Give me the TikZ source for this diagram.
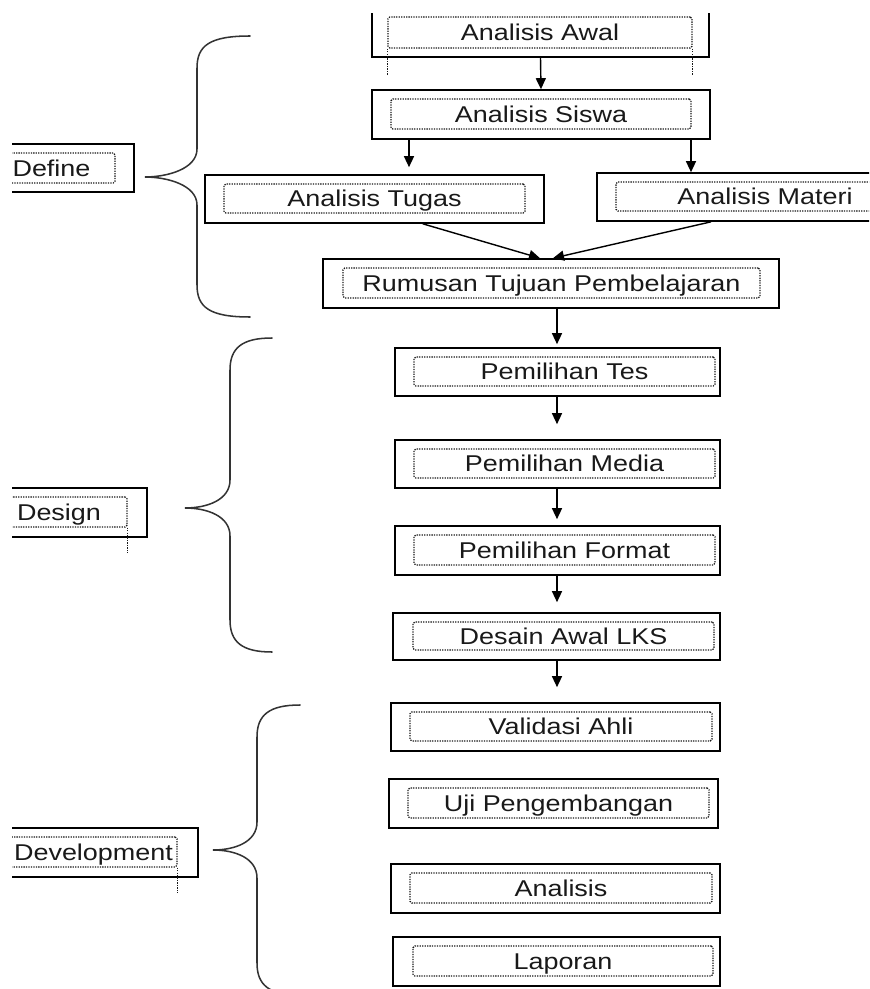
\documentclass[tikz,border=0pt]{standalone}
\usepackage{fontspec}
\setmainfont{Liberation Sans}[FakeStretch=1.18]
\usetikzlibrary{arrows.meta,fit}

\tikzset{
  stage/.style={draw=black, line width=1.4pt, inner sep=0pt},
  dots/.style={draw=black!90, line width=1.1pt, dash pattern=on 1.1pt off 1pt},
  tbox/.style={dots, rounded corners=1.5pt, inner sep=0pt},
  txt/.style={inner sep=0pt, anchor=center, text=black!90,
    font=\fontsize{19.5}{22}\selectfont, text height=14pt, text depth=0pt},
  flow/.style={line width=1.2pt, -{Triangle[length=0.33cm,width=0.3cm]}},
  curly/.style={line width=1.3pt, draw=black!80, line cap=round}
}

\begin{document}
\begin{tikzpicture}[x=0.03cm, y=-0.03cm]
  \useasboundingbox (0,0) rectangle (869,989);
  \begin{scope}
    % the scan is cut at the left and at the top
    \clip (12,14) rectangle (869,989);

    % first box, its top edge is cut off
    \node[stage, fit={(372,-10) (709,57)}] (awal) {};
    \node[tbox, fit={(388,17) (692,48)}] (awal-in) {};
    \node[txt] (awal-t) at (awal-in.center) {Analisis Awal};
    \draw[dots] (awal-in.south west) -- ++(0,27);
    \draw[dots] (awal-in.south east) -- ++(0,27);

    % boxes of the main column
    \foreach \n/\xl/\xr/\il/\ir/\yt/\yb/\txt in {
        siswa/372/710/391/691/90/139/Analisis Siswa,
        tugas/205/544/224/525/175/223/Analisis Tugas,
        materi/597/935/616/914/173/221/Analisis Materi,
        rumusan/323/779/343/760/259/308/Rumusan Tujuan Pembelajaran,
        tes/395/720/414/715/348/396/Pemilihan Tes,
        media/395/720/414/715/440/488/Pemilihan Media,
        format/395/720/414/715/526/575/Pemilihan Format,
        desain/393/720/413/714/613/660/Desain Awal LKS,
        validasi/391/720/410/712/703/751/Validasi Ahli,
        uji/389/718/408/709/779/828/Uji Pengembangan,
        analisis/391/720/410/712/864/913/Analisis,
        laporan/393/720/413/713/937/986/Laporan}{
      \node[stage, fit={(\xl,\yt) (\xr,\yb)}] (\n) {};
      \node[tbox, fit={(\il,\yt+9) (\ir,\yb-10)}] (\n-in) {};
      \node[txt] (\n-t) at (\n-in.center) {\txt};
    }

    % stage labels on the left
    \node[stage, fit={(-20,144) (134,192)}] (define) {};
    \node[tbox, fit={(-12,153) (115,183)}] (define-in) {};
    \node[txt] (define-t) at (define-in.center) {Define};
    \node[stage, fit={(-20,488) (147,537)}] (design) {};
    \node[tbox, fit={(-9,497) (127,527)}] (design-in) {};
    \node[txt] (design-t) at (design-in.center) {Design};
    \draw[dots] (design-in.south east) -- ++(0,25);
    \node[stage, fit={(-20,828) (198,877)}] (develop) {};
    \node[tbox, fit={(10,837) (177,867)}] (develop-in) {};
    \node[txt] (develop-t) at (develop-in.center) {Development};
    \draw[dots] (develop-in.south east) -- ++(0,25);

    % braces
    \foreach \tx/\ty/\vx/\ex/\ya/\yz in {145/177/197/250/36/317,
        185/508/230/272/338/652, 213/850/257/300/705/995}
      \draw[curly] (\ex,\ya) .. controls (\vx+12,\ya) and (\vx,\ya+10) .. (\vx,\ya+32)
        -- (\vx,\ty-28) .. controls (\vx,\ty-8) and (\tx+22,\ty) .. (\tx,\ty)
        .. controls (\tx+22,\ty) and (\vx,\ty+8) .. (\vx,\ty+28)
        -- (\vx,\yz-32) .. controls (\vx,\yz-10) and (\vx+12,\yz) .. (\ex,\yz);

    % arrows
    \coordinate (lt) at (409,0);
    \coordinate (rt) at (691,0);
    \coordinate (spine) at (557,0);
    \draw[flow] (awal.south) -- (siswa.north);
    \draw[flow, shorten >=0.21cm] (siswa.south -| lt) -- (tugas.north -| lt);
    \draw[flow] (siswa.south -| rt) -- (materi.north -| rt);
    \draw[flow] ([xshift=1.45cm]tugas.south) -- ([xshift=-0.33cm]rumusan.north);
    \draw[flow] ([xshift=-1.65cm]materi.south) -- ([xshift=0.06cm]rumusan.north);
    \foreach \p/\q/\g in {rumusan/tes/0.09, tes/media/0.45, media/format/0.18,
        format/desain/0.3, desain/validasi/0.45}
      \draw[flow, shorten >=\g cm] (\p.south -| spine) -- (\q.north -| spine);
  \end{scope}
\end{tikzpicture}
\end{document}
